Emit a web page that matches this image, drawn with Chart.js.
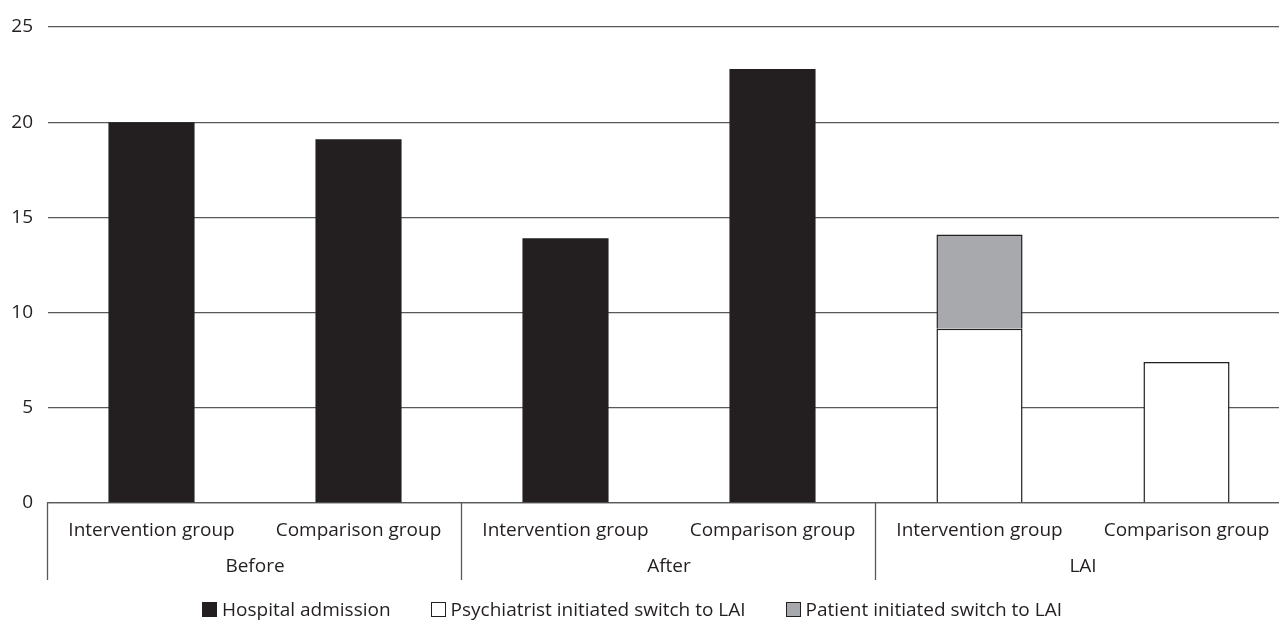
<!DOCTYPE html>
<html>
<head>
<meta charset="utf-8">
<script src="https://cdn.jsdelivr.net/npm/chart.js@4.4.1/dist/chart.umd.min.js"></script>
<style>
  html, body { margin: 0; padding: 0; background: #fff; overflow: hidden; }
  #wrap { position: relative; width: 1290px; height: 624px; }
  #legend {
    position: absolute; left: 0; top: 598px; width: 1264px;
    display: flex; justify-content: center; gap: 40px;
    font-family: "Open Sans", sans-serif; font-size: 19px; color: #231f20;
    line-height: 22px;
  }
  .lg-item { display: flex; align-items: center; }
  .lg-box { width: 15px; height: 15px; box-sizing: border-box; margin-right: 5px; }
</style>
</head>
<body>
<div id="wrap">
  <canvas id="c" width="1290" height="624"></canvas>
  <div id="legend"></div>
</div>
<script>
// categories and grouping
var CATEGORIES = ['Intervention group', 'Comparison group', 'Intervention group', 'Comparison group', 'Intervention group', 'Comparison group'];
var GROUPS = ['Before', 'After', 'LAI'];
var GROUP_SIZE = 2;

// series values
var HOSPITAL     = [20, 19.1, 13.9, 22.8, null, null];
var PSYCHIATRIST = [null, null, null, null, 9.15, 7.4];
var PATIENT      = [null, null, null, null, 4.95, null];

var Y_TICKS = [0, 5, 10, 15, 20, 25];

var INK = '#231f20';
var RULE = '#58595b';
var GREY = '#a7a9ac';
var FONT = '"Open Sans", sans-serif';
var FSIZE = 19;

var groupPlugin = {
  id: 'groupLabels',
  afterDraw: function (chart) {
    var ctx = chart.ctx;
    var x = chart.scales.x;
    var top = chart.chartArea.bottom;
    var half = (x.getPixelForValue(1) - x.getPixelForValue(0)) / 2;
    ctx.save();
    ctx.strokeStyle = RULE;
    ctx.lineWidth = 1.3;
    ctx.fillStyle = INK;
    ctx.font = FSIZE + 'px ' + FONT;
    ctx.textAlign = 'center';
    ctx.textBaseline = 'middle';
    for (var g = 0; g < GROUPS.length; g++) {
      var first = g * GROUP_SIZE;
      var last = first + GROUP_SIZE - 1;
      var left = x.getPixelForValue(first) - half;
      ctx.beginPath();
      ctx.moveTo(Math.round(left) - 0.5, top);
      ctx.lineTo(Math.round(left) - 0.5, top + 77);
      ctx.stroke();
      var mid = (x.getPixelForValue(first) + x.getPixelForValue(last)) / 2;
      ctx.fillText(GROUPS[g], mid, top + 64);
    }
    ctx.restore();
  }
};

var datasets = [
  { label: 'Hospital admission', data: HOSPITAL, backgroundColor: INK, borderWidth: 0 },
  { label: 'Psychiatrist initiated switch to LAI', data: PSYCHIATRIST, backgroundColor: '#ffffff', borderColor: INK, borderWidth: 1.5 },
  { label: 'Patient initiated switch to LAI', data: PATIENT, backgroundColor: GREY, borderColor: INK, borderWidth: 1.5 }
];

new Chart(document.getElementById('c'), {
  type: 'bar',
  data: { labels: CATEGORIES, datasets: datasets },
  options: {
    responsive: false,
    animation: false,
    devicePixelRatio: 1,
    layout: { padding: { top: 27, left: 0, right: 0, bottom: 0 } },
    datasets: { bar: { categoryPercentage: 1, barPercentage: 0.416 } },
    plugins: { legend: { display: false }, tooltip: { enabled: false } },
    scales: {
      x: {
        stacked: true,
        grid: { display: false },
        border: { display: true, color: RULE, width: 1.3 },
        ticks: { color: INK, font: { family: FONT, size: FSIZE }, padding: 8, maxRotation: 0, autoSkip: false },
        afterFit: function (s) { s.height = 121; }
      },
      y: {
        stacked: true,
        min: 0, max: 25,
        afterBuildTicks: function (s) { s.ticks = Y_TICKS.map(function (v) { return { value: v }; }); },
        grid: { color: RULE, lineWidth: 1.3, drawTicks: false },
        border: { display: false },
        ticks: { color: INK, font: { family: FONT, size: FSIZE }, padding: 15 },
        afterFit: function (s) { s.width = 48; }
      }
    }
  },
  plugins: [groupPlugin]
});

// html legend
var legend = document.getElementById('legend');
datasets.forEach(function (d) {
  var item = document.createElement('div');
  item.className = 'lg-item';
  var box = document.createElement('span');
  box.className = 'lg-box';
  box.style.background = d.backgroundColor;
  if (d.borderWidth) box.style.border = '1.3px solid ' + d.borderColor;
  var txt = document.createElement('span');
  txt.textContent = d.label;
  item.appendChild(box);
  item.appendChild(txt);
  legend.appendChild(item);
});
</script>
</body>
</html>
